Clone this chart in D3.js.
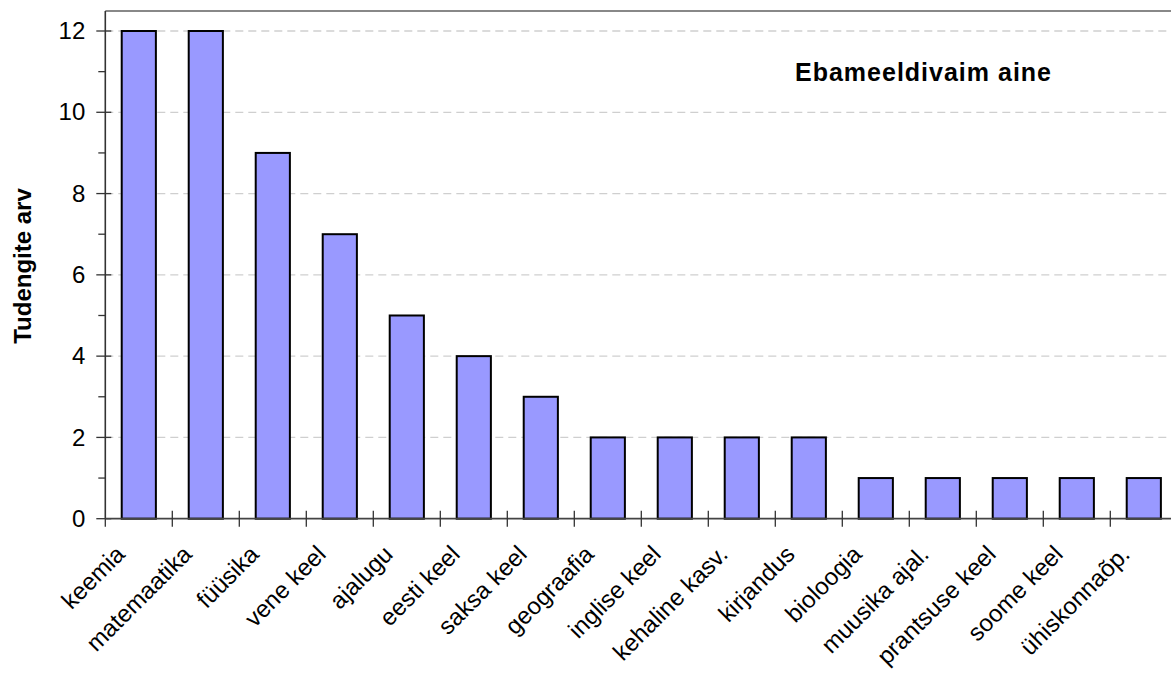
<!DOCTYPE html>
<html>
<head>
<meta charset="utf-8">
<script src="https://cdn.jsdelivr.net/npm/d3@7"></script>
<style>
  html, body { margin: 0; padding: 0; background: #fff; }
  svg { display: block; font-family: "Liberation Sans", Arial, sans-serif; }
</style>
</head>
<body>
<svg id="chart" width="1171" height="674"></svg>
<script>
const categories = ["keemia", "matemaatika", "füüsika", "vene keel", "ajalugu", "eesti keel",
  "saksa keel", "geograafia", "inglise keel", "kehaline kasv.", "kirjandus", "bioloogia",
  "muusika ajal.", "prantsuse keel", "soome keel", "ühiskonnaõp."];
const values = [12, 12, 9, 7, 5, 4, 3, 2, 2, 2, 2, 1, 1, 1, 1, 1];
const yTicks = [0, 2, 4, 6, 8, 10, 12];
const yMinorTicks = [1, 3, 5, 7, 9, 11];
const chartTitle = "Ebameeldivaim aine";
const yTitle = "Tudengite arv";

(function () {
const W = 1171, H = 674;
const pLeft = 105.3, pRight = 1177.3, pTop = 31, pBottom = 518.7, frameTop = 11;

const svg = d3.select("#chart");

const x = d3.scaleBand().domain(categories).range([pLeft, pRight])
  .paddingInner(0.49).paddingOuter(0.245);
const y = d3.scaleLinear().domain([0, 12]).range([pBottom, pTop]);
const step = x.step();

// gridlines
svg.append("g").selectAll("line").data(yTicks.filter(d => d > 0)).join("line")
  .attr("x1", pLeft).attr("x2", W)
  .attr("y1", d => y(d)).attr("y2", d => y(d))
  .attr("stroke", "#cfcfcf").attr("stroke-width", 1.3)
  .attr("stroke-dasharray", "8,5");

// top frame line
svg.append("line").attr("x1", pLeft).attr("x2", W).attr("y1", frameTop).attr("y2", frameTop)
  .attr("stroke", "#888").attr("stroke-width", 2);

// bars
svg.append("g").selectAll("rect").data(categories).join("rect")
  .attr("x", d => x(d))
  .attr("width", x.bandwidth())
  .attr("y", (d, i) => y(values[i]))
  .attr("height", (d, i) => y(0) - y(values[i]))
  .attr("fill", "#9999ff")
  .attr("stroke", "#000")
  .attr("stroke-width", 2);

// y axis
const yAxis = svg.append("g").attr("transform", `translate(${pLeft},0)`)
  .call(d3.axisLeft(y).tickValues(yTicks).tickSize(0).tickPadding(20).tickFormat(d3.format("d")));
yAxis.select(".domain").remove();
yAxis.selectAll("text").attr("font-size", 24).attr("fill", "#000")
  .attr("font-family", "Liberation Sans, Arial, sans-serif");

svg.append("line").attr("x1", pLeft).attr("x2", pLeft).attr("y1", frameTop).attr("y2", pBottom)
  .attr("stroke", "#333").attr("stroke-width", 1.6);
svg.append("g").selectAll("line").data(yTicks).join("line")
  .attr("x1", pLeft - 9).attr("x2", pLeft + 6)
  .attr("y1", d => y(d)).attr("y2", d => y(d))
  .attr("stroke", "#333").attr("stroke-width", 1.3);
svg.append("g").selectAll("line").data(yMinorTicks).join("line")
  .attr("x1", pLeft - 7).attr("x2", pLeft)
  .attr("y1", d => y(d)).attr("y2", d => y(d))
  .attr("stroke", "#333").attr("stroke-width", 1.3);

// x axis baseline
svg.append("line").attr("x1", pLeft).attr("x2", W).attr("y1", y(0)).attr("y2", y(0))
  .attr("stroke", "#444").attr("stroke-width", 1.8);
// category boundary ticks
const boundaries = d3.range(categories.length + 1);
svg.append("g").selectAll("line").data(boundaries).join("line")
  .attr("x1", i => pLeft + i * step).attr("x2", i => pLeft + i * step)
  .attr("y1", i => i === 0 ? y(0) : y(0) - 8).attr("y2", y(0) + 8)
  .attr("stroke", "#333").attr("stroke-width", 1.3);

// x labels
svg.append("g").selectAll("text").data(categories).join("text")
  .attr("transform", d => `translate(${x(d) + x.bandwidth() / 2 - 12.5},${pBottom + 37}) rotate(-45)`)
  .attr("text-anchor", "end")
  .attr("font-size", 24)
  .attr("fill", "#000")
  .text(d => d);

// y title
svg.append("text")
  .attr("transform", `translate(31,266) rotate(-90)`)
  .attr("text-anchor", "middle")
  .attr("font-size", 24).attr("font-weight", "bold").attr("fill", "#000")
  .text(yTitle);

// chart title
svg.append("text")
  .attr("x", 795).attr("y", 81)
  .attr("font-size", 25).attr("font-weight", "bold").attr("fill", "#000")
  .attr("letter-spacing", 1)
  .text(chartTitle);
})();
</script>
</body>
</html>
